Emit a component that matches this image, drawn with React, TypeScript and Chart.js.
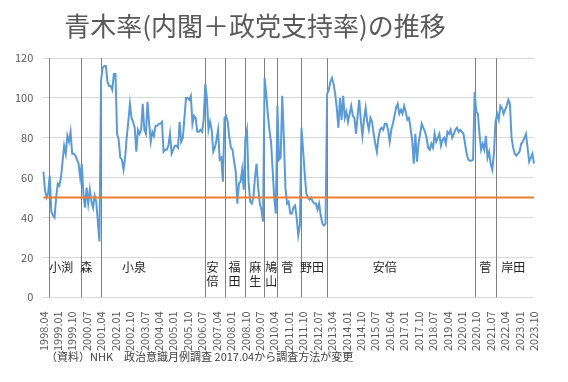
import React, { useEffect, useRef } from "react";
import { Chart, registerables } from "chart.js";
Chart.register(...registerables);

const TITLE = "青木率(内閣＋政党支持率)の推移";
const NOTE = "（資料）NHK　政治意識月例調査 2017.04から調査方法が変更";

const startYear = 1998;
const startMonth = 4;
const monthCount = 307;
const categories: string[] = [];
for (let i = 0; i < monthCount; i++) {
  const t = startMonth - 1 + i;
  const y = startYear + Math.floor(t / 12);
  const mo = (t % 12) + 1;
  categories.push(`${y}.${String(mo).padStart(2, "0")}`);
}

const tickLabels = [
  "1998.04", "1999.01", "1999.10", "2000.07", "2001.04", "2002.01", "2002.10",
  "2003.07", "2004.04", "2005.01", "2005.10", "2006.07", "2007.04", "2008.01",
  "2008.10", "2009.07", "2010.04", "2011.01", "2011.10", "2012.07", "2013.04",
  "2014.01", "2014.10", "2015.07", "2016.04", "2017.01", "2017.10", "2018.07",
  "2019.04", "2020.01", "2020.10", "2021.07", "2022.04", "2023.01", "2023.10",
];

// 青木率 monthly, 1998.04 – 2023.10
const aokiRate = [
  63, 54, 50, 52, 61, 43, 41, 40, 50, 57, 56, 60,
  68, 76, 72, 81, 78, 83, 72, 72, 71, 69, 67, 60,
  67, 52, 45, 55, 47, 54, 48, 45, 51, 48, 38, 28,
  109, 115, 116, 116, 108, 106, 106, 104, 112, 112, 82, 79,
  70, 69, 64, 70, 80, 88, 97, 90, 88, 85, 73, 84,
  82, 84, 97, 84, 82, 98, 87, 78, 83, 81, 86, 86,
  87, 87, 88, 73, 74, 74, 76, 82, 72, 74, 76, 76,
  75, 88, 78, 80, 90, 100, 100, 99, 101, 87, 91, 90,
  83, 83, 84, 83, 89, 107, 100, 84, 88, 84, 73, 75,
  79, 84, 69, 70, 58, 90, 91, 88, 80, 75, 74, 68,
  63, 47, 57, 58, 64, 54, 80, 84, 58, 48, 47, 50,
  60, 67, 55, 47, 44, 38, 110, 102, 92, 84, 78, 64,
  50, 42, 96, 69, 70, 101, 80, 55, 47, 48, 42, 42,
  45, 46, 40, 31, 36, 85, 74, 62, 52, 50, 49, 50,
  48, 47, 47, 44, 47, 41, 37, 36, 37, 102, 104, 108,
  110, 107, 102, 95, 85, 100, 89, 101, 90, 93, 88, 92,
  96, 91, 90, 82, 91, 99, 89, 81, 89, 95, 88, 84,
  90, 88, 82, 77, 73, 80, 84, 85, 84, 87, 87, 84,
  78, 84, 87, 91, 95, 97, 92, 94, 92, 96, 93, 89,
  90, 85, 79, 67, 82, 68, 77, 82, 87, 85, 83, 80,
  75, 74, 77, 75, 82, 78, 80, 82, 76, 79, 80, 77,
  83, 82, 84, 80, 82, 84, 85, 83, 84, 83, 82, 77,
  72, 69, 68.5, 68.5, 69, 103, 93, 92, 82, 74, 77, 74,
  81, 70, 73, 67, 64, 72, 88, 92, 89, 96, 95, 92,
  94, 96, 99, 97, 80, 75, 72, 71, 72, 73, 77, 78,
  80, 82, 75, 68, 70, 72, 67,
];

const threshold = 50;

// Prime ministers: name, month index where the term line is drawn, month index where label is centred
const pmNames = ["小渕", "森", "小泉", "安倍", "福田", "麻生", "鳩山", "菅", "野田", "安倍", "菅", "岸田"];
const pmStart = [3.7, 23.6, 35.8, 101, 113, 126, 137.5, 145.7, 160.7, 177, 269, 282];
const pmLabelAt = [11.2, 26.7, 56.5, 105.5, 119.2, 132.2, 142.1, 152.1, 167.6, 212.9, 275.6, 293];
const pmLabelValue = 15;

const FONT = "'Noto Sans CJK JP', 'Noto Sans', sans-serif";

const overlay = {
  id: "overlay",
  beforeDatasetsDraw(chart: any) {
    const { ctx, chartArea, scales } = chart;
    const x = scales.x;
    ctx.save();
    ctx.strokeStyle = "#7f7f7f";
    ctx.lineWidth = 1;
    pmStart.forEach((m) => {
      const px = Math.round(x.getPixelForValue(m)) + 0.5;
      ctx.beginPath();
      ctx.moveTo(px, chartArea.top);
      ctx.lineTo(px, chartArea.bottom);
      ctx.stroke();
    });
    ctx.restore();
  },
  afterDatasetsDraw(chart: any) {
    const { ctx, chartArea, scales } = chart;
    const x = scales.x;
    const y = scales.y;
    ctx.save();
    ctx.strokeStyle = "#ED7D31";
    ctx.lineWidth = 2;
    const py = y.getPixelForValue(threshold);
    ctx.beginPath();
    ctx.moveTo(chartArea.left, py);
    ctx.lineTo(chartArea.right, py);
    ctx.stroke();

    ctx.fillStyle = "#262626";
    ctx.font = `12px ${FONT}`;
    ctx.textAlign = "center";
    ctx.textBaseline = "middle";
    pmNames.forEach((name, i) => {
      const termEnd = i + 1 < pmStart.length ? pmStart[i + 1] : monthCount;
      const stacked = name.length > 1 && termEnd - pmStart[i] < 14;
      const cx = x.getPixelForValue(pmLabelAt[i]);
      const cy = y.getPixelForValue(pmLabelValue);
      if (stacked) {
        name.split("").forEach((ch, k) => ctx.fillText(ch, cx, cy + k * 14));
      } else {
        ctx.fillText(name, cx, cy);
      }
    });
    ctx.restore();
  },
};

export default function App() {
  const ref = useRef<HTMLCanvasElement | null>(null);
  useEffect(() => {
    document.body.style.margin = "0";
    Chart.defaults.font.family = FONT;
    const chart = new Chart(ref.current as HTMLCanvasElement, {
      type: "line",
      data: {
        labels: categories,
        datasets: [
          {
            label: "青木率",
            data: aokiRate,
            borderColor: "#5B9BD5",
            backgroundColor: "#5B9BD5",
            borderWidth: 2,
            pointRadius: 0,
            tension: 0,
          },
        ],
      },
      options: {
        animation: false,
        responsive: true,
        maintainAspectRatio: false,
        layout: { padding: { left: 5, right: 34, top: 58, bottom: 25 } },
        plugins: { legend: { display: false }, tooltip: { enabled: false } },
        scales: {
          x: {
            grid: { display: false },
            border: { display: false },
            ticks: {
              autoSkip: false,
              maxRotation: 90,
              minRotation: 90,
              color: "#595959",
              font: { size: 11 },
              padding: 6,
              callback: (_v: any, idx: number) =>
                tickLabels.includes(categories[idx]) ? categories[idx] : null,
            },
          },
          y: {
            min: 0,
            max: 120,
            grid: { color: "#D9D9D9", drawTicks: false },
            border: { display: false },
            ticks: { stepSize: 20, color: "#595959", font: { size: 11 }, padding: 10 },
          },
        },
      },
      plugins: [overlay],
    });
    return () => chart.destroy();
  }, []);

  return (
    <div style={{ position: "fixed", left: 0, top: 0, width: 568, height: 382, background: "#fff", fontFamily: FONT }}>
      <canvas ref={ref} />
      <div style={{ position: "absolute", left: 0, width: 510, top: 12, textAlign: "center", fontSize: 26, lineHeight: 1, color: "#595959" }}>
        {TITLE}
      </div>
      <div style={{ position: "absolute", left: 46, top: 351, fontSize: 11, lineHeight: 1, color: "#404040" }}>
        {NOTE}
      </div>
    </div>
  );
}
